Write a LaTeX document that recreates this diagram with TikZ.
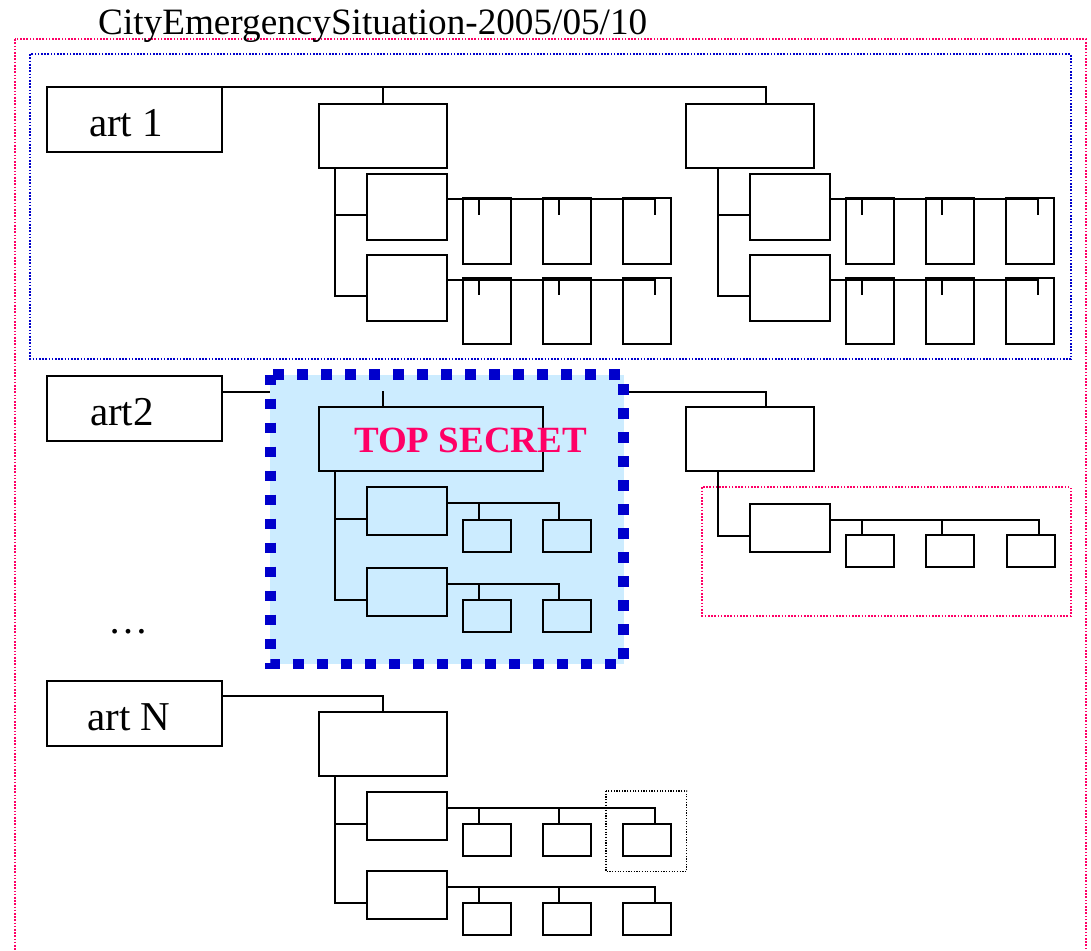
\documentclass[tikz,border=0pt]{standalone}
\usepackage{fontspec}
\setmainfont{Liberation Serif}
\usetikzlibrary{backgrounds}
\definecolor{pinkdot}{HTML}{FF0066}
\definecolor{bluedot}{HTML}{0000CC}
\definecolor{secretfill}{HTML}{CCECFF}
\begin{document}
\begin{tikzpicture}[x=1pt,y=-1pt]
	\tikzstyle{box}=[draw, line width=2pt, inner sep=0pt, outer sep=0pt]
	\tikzstyle{artbox}=[box, minimum width=175pt, minimum height=65pt]
	\tikzstyle{arttext}=[inner sep=0pt, font=\fontsize{41}{44}\selectfont]
	\tikzstyle{midbox}=[box, minimum width=128pt, minimum height=64pt]
	\tikzstyle{widebox}=[box, minimum width=224pt, minimum height=64pt]
	\tikzstyle{subbox}=[box, minimum width=80pt, minimum height=48pt]
	\tikzstyle{tallsub}=[box, minimum width=80pt, minimum height=66pt]
	\tikzstyle{leaf}=[box, minimum width=48pt, minimum height=32pt]
	\tikzstyle{tallleaf}=[box, minimum width=48pt, minimum height=66pt]
	\tikzstyle{link}=[line width=2pt]
	\tikzstyle{dotframe}=[line width=2pt, dash pattern=on 1.6pt off 1.6pt]

	\useasboundingbox (0,0) rectangle (1091,950);

	% Frames and title
	\draw[dotframe, draw=pinkdot] (14.7,39.3) rectangle (1086,965);
	\draw[dotframe, draw=bluedot] (30.4,54.3) rectangle (1070.7,359.3);
	\node[anchor=base west, inner sep=0pt, font=\fontsize{37.2}{40}\selectfont] at (98,35) (title) {CityEmergencySituation-2005/05/10};

	% art 1
	\node[artbox] at (134.7,119.3) (art_1) {};
	\node[arttext] at (126,123) (art_1_txt) {art 1};
	\node[midbox] at (382.5,136) (c_11) {};
	\node[midbox] at (750.3,136) (c_12) {};
	\draw[link] (art_1.north east) -| (c_11.north);
	\draw[link] (art_1.north east) -| ([xshift=16pt]c_12.north);
	\foreach \k/\dx/\t in {1/0/16, 2/383.7/32} {
		\node[tallsub] at (406.7+\dx,207.2) (s_\k1) {};
		\node[tallsub] at (406.7+\dx,287.5) (s_\k2) {};
		\foreach \r/\y in {1/231.3, 2/311.3} {
			\draw[link] ([xshift=\t pt]c_1\k.south west) |- ([yshift=-8pt]s_\k\r.west);
			\foreach \j/\x/\o in {1/486.5/-8, 2/566.5/-8, 3/646.5/8} {
				\node[tallleaf] at (\x+\dx,\y) (l_\k\r\j) {};
				\draw[link] ([yshift=8pt]s_\k\r.east) -| ([xshift=\o pt]l_\k\r\j.north) -- ++(0,17);
			}
		}
	}

	% art 2
	\node[artbox] at (134.7,408) (art_2) {};
	\node[arttext] at (122,412) (art_2_txt) {art2};
	\node[widebox] at (430.5,439.2) (c_21) {};
	\node[midbox] at (750.3,439.2) (c_22) {};
	\begin{scope}[on background layer]
		\draw[link] ([yshift=-16pt]art_2.north east) -| ([xshift=16pt]c_22.north);
		\draw[fill=secretfill, draw=bluedot, line width=10.7pt, dash pattern=on 10.7pt off 13.3pt]
			(270.3,374.5) rectangle (623.7,664);
	\end{scope}
	\draw[link] ([xshift=64pt]c_21.north west) -- ++(0,-16.3);
	\foreach \r/\y in {1/511.3, 2/591.5} {
		\node[subbox] at (406.5,\y) (s_2\r) {};
		\draw[link] ([xshift=16pt]c_21.south west) |- ([yshift=-8pt]s_2\r.west);
		\foreach \j/\x in {1/486.5, 2/566.5} {
			\node[leaf] at (\x,\y+24.2) (l_2\r\j) {};
			\draw[link] ([yshift=8pt]s_2\r.east) -| ([xshift=-8pt]l_2\r\j.north);
		}
	}
	\node[subbox] at (790.4,527.5) (s_23) {};
	\draw[link] ([xshift=32pt]c_22.south west) |- ([yshift=-8pt]s_23.west);
	\foreach \j/\x/\o in {1/870.3/-8, 2/950.3/-8, 3/1030.5/8} {
		\node[leaf] at (\x,551.2) (l_23\j) {};
		\draw[link] ([yshift=8pt]s_23.east) -| ([xshift=\o pt]l_23\j.north);
	}
	\draw[dotframe, draw=pinkdot] (702.3,487.3) rectangle (1070.7,616);
	\node[anchor=base, text=pinkdot, inner sep=0pt, font=\fontsize{37}{40}\selectfont\bfseries] at (470.5,452.7) (secret) {TOP SECRET};

	% ...
	\node[anchor=base, inner sep=0pt, font=\fontsize{40}{44}\selectfont] at (128,633) (dots) {…};

	% art N
	\node[artbox] at (134.7,713) (art_n) {};
	\node[arttext] at (129,717) (art_n_txt) {art N};
	\node[midbox] at (382.5,743.7) (c_n1) {};
	\draw[link] ([yshift=-15pt]art_n.north east) -| (c_n1.north);
	\foreach \r/\y in {1/815.5, 2/895.3} {
		\node[subbox] at (406.7,\y) (s_n\r) {};
		\draw[link] ([xshift=16pt]c_n1.south west) |- ([yshift=-8pt]s_n\r.west);
		\foreach \j/\x/\o in {1/486.5/-8, 2/566.5/-8, 3/646.5/8} {
			\node[leaf] at (\x,\y+24) (l_n\r\j) {};
			\draw[link] ([yshift=8pt]s_n\r.east) -| ([xshift=\o pt]l_n\r\j.north);
		}
	}
	\draw[line width=1.5pt, dash pattern=on 1.2pt off 1.5pt] (606,791) rectangle (686.7,871.3);
\end{tikzpicture}
\end{document}
